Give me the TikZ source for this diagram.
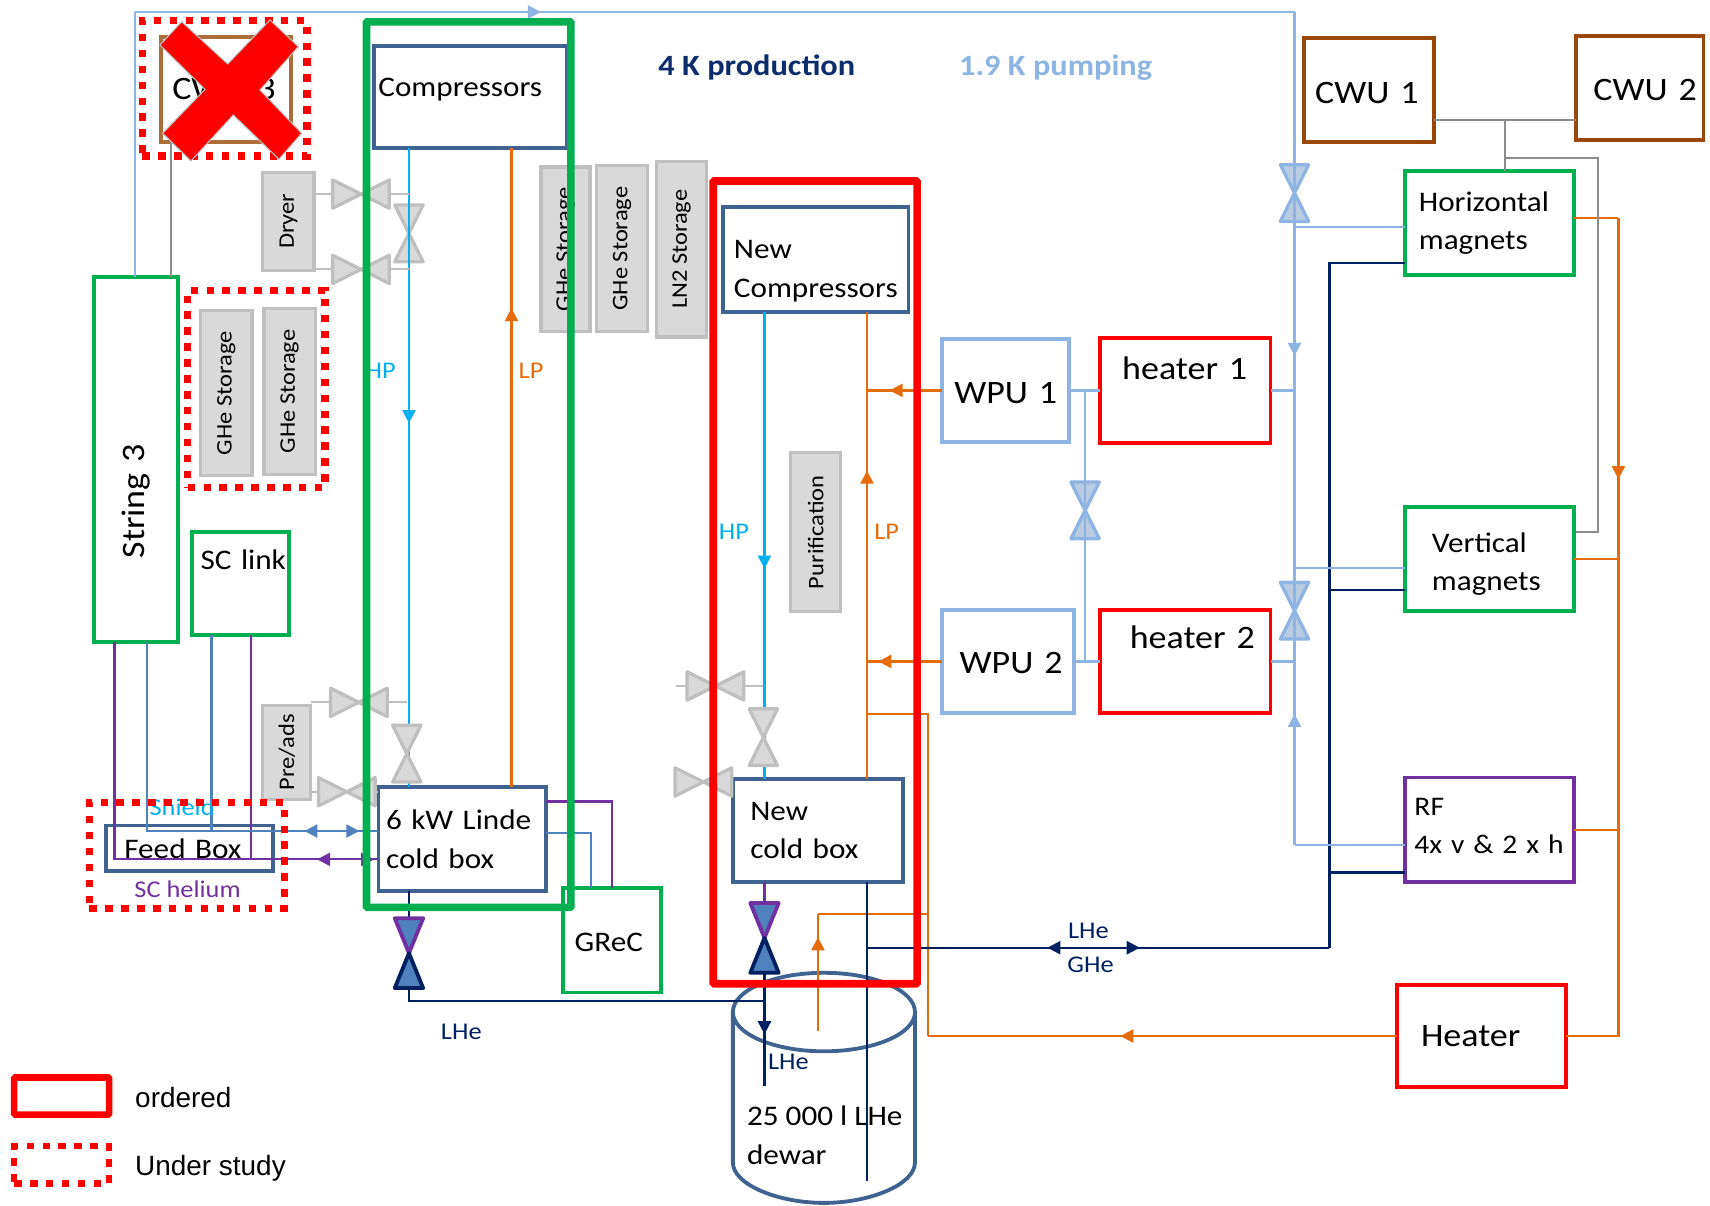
\documentclass[tikz,border=0pt]{standalone}
\usepackage{fontspec}
\setmainfont[FakeStretch=1.1]{Carlito}
\newfontfamily\arialf{Liberation Sans}
\usepackage{xcolor}
\definecolor{dgreen}{HTML}{00B050}
\definecolor{dred}{HTML}{FF0000}
\definecolor{dnavy}{HTML}{002060}
\definecolor{dblue}{HTML}{3F6291}
\definecolor{mblue}{HTML}{4F81BD}
\definecolor{lblue}{HTML}{8DB4E2}
\definecolor{lfill}{HTML}{B8CCE4}
\definecolor{dcyan}{HTML}{00B0F0}
\definecolor{dorange}{HTML}{E46C0A}
\definecolor{dpurple}{HTML}{7030A0}
\definecolor{dbrown}{HTML}{974806}
\definecolor{sfill}{HTML}{D9D9D9}
\definecolor{sline}{HTML}{BFBFBF}
\definecolor{gline}{HTML}{8C8C8C}
\usepackage{tikz}
\usetikzlibrary{arrows.meta,positioning,decorations.markings}

\begin{document}
\begin{tikzpicture}[
  x=0.5pt,y=-0.5pt,
  bigf/.style={font=\fontsize{15}{17.5}\selectfont},
  midf/.style={font=\fontsize{13}{17.5}\selectfont},
  smf/.style={font=\fontsize{11}{13}\selectfont},
  abox/.style={rectangle,draw,outer sep=0pt,inner sep=0pt,align=left,line width=1.75pt,midf},
  gbox/.style={abox,draw=dgreen},
  rbox/.style={abox,draw=dred},
  bbox/.style={abox,draw=dblue},
  wbox/.style={abox,draw=lblue},
  cbox/.style={abox,draw=dbrown},
  pbox/.style={abox,draw=dpurple},
  lbox/.style 2 args={minimum width=#1,inner xsep=#2,text width={#1-2*#2}},
  sbox/.style={rectangle,draw=sline,fill=sfill,line width=1.5pt,outer sep=0pt,inner sep=0pt,rotate=90,
    align=center,font=\fontsize{10.2}{12}\selectfont},
  gframe/.style={rectangle,draw=dgreen,line width=3.5pt,rounded corners=0.5pt,outer sep=0pt},
  rframe/.style={rectangle,draw=dred,line width=3.5pt,rounded corners=0.5pt,outer sep=0pt},
  dframe/.style={rectangle,draw=dred,line width=3.25pt,dash pattern=on 3.4pt off 3.9pt,outer sep=0pt},
  tlab/.style={inner sep=0pt,outer sep=0pt,smf},
  conn/.style={line width=1pt},
  hpline/.style={conn,dcyan},
  lpline/.style={conn,dorange},
  nvline/.style={conn,dnavy},
  puline/.style={conn,dpurple},
  blline/.style={conn,mblue},
  ltline/.style={conn,lblue},
  grline/.style={conn,gline},
  sgline/.style={conn,sline},
  midtip/.style={postaction={decorate,decoration={markings,mark=at position #1 with {\arrow{Stealth[length=6pt,width=6pt,inset=0pt]}}}}},
  vvalve/.pic={\draw[pic actions] (-13,-26) -- (13,-26) -- (-13,26) -- (13,26) -- cycle;},
  hvalve/.pic={\draw[pic actions] (-26,-13) -- (26,13) -- (26,-13) -- (-26,13) -- cycle;},
  lvalve/.pic={
    \draw[fill=mblue,draw=dpurple,line width=1.75pt,line join=round] (-13,-32) -- (13,-32) -- (0,0) -- cycle;
    \draw[fill=mblue,draw=dnavy,line width=1.75pt,line join=round] (-13,32) -- (13,32) -- (0,0) -- cycle;},
  svalve/.style={draw=sline,fill=sfill,line width=1.5pt,line join=round},
  wvalve/.style={draw=lblue,fill=lfill,line width=1.5pt,line join=round}
]
  \useasboundingbox (0,0) rectangle (1568,1105);

  % === Dewar ===
  \draw[dblue,line width=1.75pt] (755.5,928) ellipse [x radius=83.5,y radius=36];
  \draw[dblue,line width=1.75pt] (672,928) -- (672,1066) .. controls (672,1086) and (713,1103) .. (755.5,1103)
    .. controls (798,1103) and (839,1086) .. (839,1066) -- (839,928);
  \node[tlab,midf,align=left,anchor=west] (dewartxt) at (685,1041) {25 000 l LHe\\dewar};

  % === Boxes ===
  \node[gbox,rotate=90,minimum width=167.5pt,minimum height=38.5pt,inner xsep=38.5pt,text width=90.5pt,bigf] (string) at (124.5,421.5) {String~3};
  \node[bbox,lbox={88.5pt}{2pt},minimum height=47pt,text depth=9pt] (comp) at (431.5,89) {Compressors};
  \node[bbox,lbox={85pt}{5pt},minimum height=48pt,below right=27pt and 71.5pt of comp,text height=19pt] (ncomp) {New\\Compressors};
  \node[bbox,lbox={77pt}{3.5pt},minimum height=47.5pt] (cold) at (424,769.5) {6~kW~Linde\\cold~box};
  \node[bbox,lbox={78pt}{8pt},minimum height=47.5pt] (ncold) at (750,761.5) {New\\cold~box};
  \node[bbox,lbox={76.5pt}{8.5pt},minimum height=21pt] (feed) at (173.5,778) {Feed~Box};
  \node[gbox,lbox={44.5pt}{4pt},minimum height=47pt,text depth=22pt] (sclink) at (220.5,535) {SC~link};
  \node[gbox,lbox={45pt}{5.5pt},minimum height=48pt,text height=10.5pt] (grec) at (561,862) {GReC};
  \node[cbox,lbox={59.5pt}{5pt},minimum height=48pt,bigf,draw=dbrown!80] (cwuc) at (207.5,82) {CWU~3};
  \node[cbox,lbox={59.5pt}{5pt},minimum height=47.5pt,bigf,text height=12.5pt] (cwua) at (1255.5,82.5) {CWU~1};
  \node[cbox,lbox={58.5pt}{8pt},minimum height=47.5pt,bigf,right=65pt of cwua,yshift=1pt,text height=11.5pt] (cwub) {CWU~2};
  \node[gbox,lbox={77.5pt}{6.5pt},minimum height=47.5pt] (hmag) at (1365.5,204.5) {Horizontal\\magnets};
  \node[gbox,lbox={77.5pt}{12.5pt},minimum height=47.5pt,below=106.5pt of hmag,text height=13.5pt] (vmag) {Vertical\\magnets};
  \node[pbox,lbox={77.5pt}{4.5pt},minimum height=48pt,below=76.5pt of vmag,text depth=21pt,font=\fontsize{12.3}{17.5}\selectfont] (rf) {RF\\4x~v~\&~2~x~h};
  \node[rbox,lbox={77.5pt}{11pt},minimum height=47pt,below=47pt of rf,xshift=-3.5pt,bigf] (heater) {Heater};
  \node[wbox,lbox={58pt}{5.5pt},minimum height=47pt,bigf,text height=12.5pt] (wpua) at (922,358) {WPU~1};
  \node[wbox,lbox={60.5pt}{8pt},minimum height=47.5pt,bigf,text height=11.5pt] (wpub) at (924.5,606.5) {WPU~2};
  \node[rbox,lbox={78pt}{10pt},minimum height=48pt,bigf,right=14.5pt of wpua,text depth=20pt] (heatera) {heater~1};
  \node[rbox,lbox={78pt}{13.5pt},minimum height=47pt,bigf,right=12pt of wpub,text depth=22pt] (heaterb) {heater~2};

  % === Grey units ===
  \node[sbox,minimum width=45pt,minimum height=23.5pt] (dryer) at (264.5,203) {Dryer};
  \node[sbox,minimum width=75.5pt,minimum height=23.5pt] (ghea) at (207.5,360.5) {GHe Storage};
  \node[sbox,minimum width=76pt,minimum height=23.5pt] (gheb) at (265.5,359) {GHe Storage};
  \node[sbox,minimum width=75.5pt,minimum height=22.5pt] (ghec) at (518.5,228.5) {GHe Storage};
  \node[sbox,minimum width=76pt,minimum height=23.5pt] (ghed) at (570.5,228) {GHe Storage};
  \node[sbox,minimum width=80.5pt,minimum height=23pt] (ltwo) at (625,228.5) {LN2 Storage};
  \node[sbox,minimum width=73pt,minimum height=23pt] (purif) at (748,488) {Purification};
  \node[sbox,minimum width=43pt,minimum height=22pt] (preads) at (263,690) {Pre/ads};

  % === Valve centres and junctions ===
  \coordinate (vdry) at (375,214);
  \coordinate (hvup) at (331,178);
  \coordinate (hvlo) at (331,247);
  \coordinate (hvpre) at (329,644);
  \coordinate (hvads) at (318,726);
  \coordinate (vlow) at (373,691);
  \coordinate (vlhe) at (375,874);
  \coordinate (vncold) at (700,676);
  \coordinate (vnlhe) at (701,860);
  \coordinate (hvna) at (656,629);
  \coordinate (hvnb) at (645,717);
  \coordinate (vwpu) at (995,468);
  \coordinate (vtop) at (1187,177);
  \coordinate (vlowr) at (1187,560);
  \coordinate (lpa) at (469,136);
  \coordinate (lpb) at (795,286);
  \coordinate (jor) at (795,655);
  \coordinate (jorb) at (851,655);
  \coordinate (jc) at (851,838);
  \coordinate (jd) at (750,945);
  \coordinate (orh) at (1484,200);
  \coordinate (nvb) at (1219,869);
  \coordinate (nj) at (795,869);
  \coordinate (ne) at (795,1083);
  \coordinate (nha) at (1288,241);
  \coordinate (nva) at (1288,541);
  \coordinate (nra) at (1288,800);
  \coordinate (lha) at (1288,208);
  \coordinate (lva) at (1288,521);
  \coordinate (lra) at (1288,775);
  \coordinate (lrb) at (1187,775);
  \coordinate (lhe) at (701,996);
  \coordinate (lhj) at (701,918);
  \coordinate (pa) at (105,788);
  \coordinate (pb) at (230,788);
  \coordinate (ba) at (135,762);
  \coordinate (bb) at (194,762);
  \coordinate (pc) at (561,735);
  \coordinate (bc) at (542,764);
  \coordinate (tla) at (124,11);
  \coordinate (cga) at (157,130);
  \coordinate (gba) at (1380,110);
  \coordinate (gbb) at (1465,145);
  \coordinate (gbc) at (1445,488);
  \coordinate (gnf) at (620,629);

  % === Valves below their lines ===
  \pic[svalve] at (vdry) {vvalve};
  \pic[wvalve] at (vtop) {vvalve};
  \pic[wvalve] at (vlowr) {vvalve};
  \pic[wvalve] at (vwpu) {vvalve};

  % === HP and LP ===
  \draw[hpline,midtip=.43] (vdry |- comp.south) -- (vdry |- cold.north);
  \draw[lpline,midtip=.75] (lpa |- cold.north) -- (lpa);
  \draw[hpline,midtip=.55] (vnlhe |- ncomp.south) -- (vnlhe |- ncold.north);
  \draw[lpline,midtip=.66] (lpb |- ncold.north) -- (lpb);
  \draw[lpline,midtip=.7] (wpua.west) -- (wpua.west -| lpb);
  \draw[lpline,midtip=.85] (wpub.west) -- (wpub.west -| lpb);
  \draw[lpline] (jor) -- (jorb) -- (jorb |- heater.west);
  \draw[lpline,midtip=.59] (heater.west) -- (heater.west -| jorb);
  \draw[lpline] (jd |- jc) -- (jc);
  \draw[lpline,midtip=.8] (jd) -- (jd |- jc);
  \draw[lpline] (hmag.east |- orh) -- (orh);
  \draw[lpline,midtip=.3] (orh) -- (orh |- heater.east) -- (heater.east);
  \draw[lpline] (vmag.east) -- (vmag.east -| orh);
  \draw[lpline] (rf.east) -- (rf.east -| orh);

  % === LHe and GHe ===
  \draw[nvline] (nj |- ncold.south) -- (ne);
  \draw[nvline] (nha) -- (nha -| nvb) -- (nvb);
  \draw[nvline] (nva) -- (nva -| nvb);
  \draw[nvline] (nra) -- (nra -| nvb);
  \draw[nvline,midtip=.59] (nj) -- (nvb);
  \draw[nvline,midtip=.61] (nvb) -- (nj);
  \draw[nvline,midtip=.65] (vnlhe) -- (lhe);
  \draw[nvline] (lhj) -- (lhj -| vlhe) -- (vlhe);
  \draw[nvline] (vlhe |- cold.south) -- (vlhe);
  \draw[puline] (vnlhe |- ncold.south) -- (vnlhe);

  % === Feed box lines ===
  \draw[puline] (pa |- string.west) -- (pa) -- (pa -| cold.west);
  \draw[puline] (pb |- sclink.south) -- (pb);
  \draw[blline] (ba |- string.west) -- (ba) -- (ba -| cold.west);
  \draw[blline] (bb |- sclink.south) -- (bb);
  \draw[puline,midtip=.58] (pa -| cold.west) -- (pa -| feed.east);
  \draw[blline,midtip=.7] (ba -| cold.west) -- (ba -| feed.east);
  \draw[blline,midtip=.82] (ba -| feed.east) -- (ba -| cold.west);
  \draw[puline,midtip=.96] (pa -| feed.east) -- (pa -| cold.west);
  \draw[puline] (pc -| cold.east) -- (pc) -- (pc |- grec.north);
  \draw[blline] (bc -| cold.east) -- (bc) -- (bc |- grec.north);

  % === 1.9 K pumping ===
  \draw[ltline] (tla |- string.east) -- (tla);
  \draw[ltline,midtip=.35] (tla) -- (tla -| vtop);
  \draw[ltline] (tla -| vtop) -- (vtop);
  \draw[ltline,midtip=.39] (vtop) -- (vlowr);
  \draw[ltline] (lra) -- (lrb);
  \draw[ltline,midtip=.56] (lrb) -- (vlowr);
  \draw[ltline] (lha) -- (lha -| vtop);
  \draw[ltline] (lva) -- (lva -| vtop);
  \draw[ltline] (heatera.east) -- (heatera.east -| vtop);
  \draw[ltline] (heaterb.east) -- (heaterb.east -| vtop);
  \draw[ltline] (wpua.east) -- (heatera.west);
  \draw[ltline] (wpub.east) -- (heaterb.west);
  \draw[ltline] (vwpu |- wpua.east) -- (vwpu |- wpub.east);

  % === Grey lines ===
  \draw[grline] (cga |- string.east) -- (cga);
  \draw[grline] (gba -| cwua.east) -- (gba -| cwub.west);
  \draw[grline] (gba) -- (gba |- hmag.north);
  \draw[grline] (gbb -| gba) -- (gbb) -- (gbb |- gbc) -- (gbc);
  \draw[sgline] (hvup -| dryer.south) -- (hvup -| vdry);
  \draw[sgline] (hvlo -| dryer.south) -- (hvlo -| vdry);
  \draw[sgline] (hvpre -| preads.south) -- (hvpre -| vlow);
  \draw[sgline] (hvads -| preads.south) -- (hvads -| cold.west);
  \draw[sgline] (gnf) -- (gnf -| vncold);
  \draw[sgline] (hvnb) -- (hvnb -| ncold.west);

  % === Valves above their lines ===
  \pic[svalve] at (hvup) {hvalve};
  \pic[svalve] at (hvlo) {hvalve};
  \pic[svalve] at (hvpre) {hvalve};
  \pic[svalve] at (hvads) {hvalve};
  \pic[svalve] at (vlow) {vvalve};
  \pic[svalve] at (vncold) {vvalve};
  \pic[svalve] at (hvna) {hvalve};
  \pic[svalve] at (hvnb) {hvalve};
  \pic at (vlhe) {lvalve};
  \pic at (vnlhe) {lvalve};

  % === Labels ===
  \node[tlab,text=dcyan] (hpa) at (349,340) {HP};
  \node[tlab,text=dorange] (lpl) at (487,340) {LP};
  \node[tlab,text=dcyan] (hpb) at (673,488) {HP};
  \node[tlab,text=dorange] (lpm) at (813,488) {LP};
  \node[tlab,text=dcyan] (shield) at (167,740) {Shield};
  \node[tlab,text=dpurple] (schel) at (172,815) {SC helium};
  \node[tlab,text=dnavy] (lhea) at (423,946) {LHe};
  \node[tlab,text=dnavy] (lheb) at (723,974) {LHe};
  \node[tlab,text=dnavy] (lhec) at (998,854) {LHe};
  \node[tlab,text=dnavy] (ghel) at (1000,885) {GHe};
  \node[tlab,text=dnavy!80!dblue,font=\fontsize{13.5}{16}\selectfont\bfseries] (prod) at (694,62) {4 K production};
  \node[tlab,text=lblue,font=\fontsize{13.5}{16}\selectfont\bfseries] (pump) at (968,62) {1.9 K pumping};

  % === Frames ===
  \node[gframe,minimum width=93.75pt,minimum height=406pt] (frgreen) at (429.75,426) {};
  \node[rframe,minimum width=93.5pt,minimum height=368pt] (frred) at (747.5,534) {};
  \node[dframe,minimum width=75.5pt,minimum height=62pt] (dota) at (206,81) {};
  \node[dframe,minimum width=63pt,minimum height=90.5pt] (dotb) at (235,356.5) {};
  \node[dframe,minimum width=89.5pt,minimum height=48.5pt] (dotc) at (171.5,784.5) {};

  % === Cross ===
  \draw[fill=dred,draw=sline,line width=.5pt] (166.6,19.9) -- (208.8,58.7) -- (247.6,18.3) -- (273.5,42.8) -- (238.4,82.5)
    -- (276.6,122.2) -- (255.8,146) -- (213.9,105.4) -- (175.1,147.6) -- (149.2,122.2) -- (188,81.9) -- (146.7,41.3) -- cycle;

  % === Legend ===
  \node[rframe,line width=3pt,minimum width=43.5pt,minimum height=17pt] (legord) at (56.5,1005) {};
  \node[dframe,line width=3pt,minimum width=43.5pt,minimum height=17pt,below=14.5pt of legord] (legdot) {};
  \node[tlab,font=\arialf\fontsize{12.8}{14}\selectfont,right=12pt of legord,yshift=-0.5pt] (legordt) {ordered};
  \node[tlab,font=\arialf\fontsize{12.8}{14}\selectfont,right=12pt of legdot,yshift=-1.5pt] (legdott) {Under study};
\end{tikzpicture}
\end{document}
